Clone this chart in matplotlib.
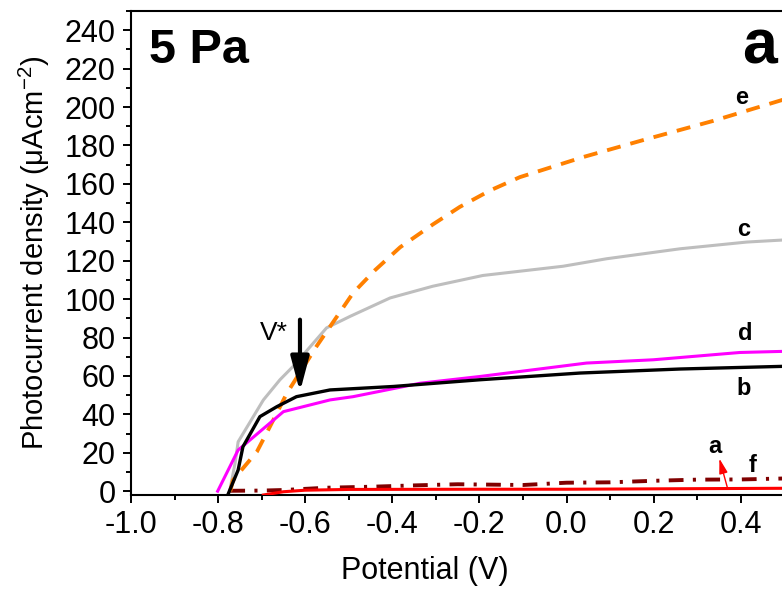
import matplotlib
matplotlib.use("Agg")
import matplotlib.pyplot as plt
from matplotlib.ticker import MultipleLocator, FormatStrFormatter

plt.rcParams['font.family'] = ['Liberation Sans', 'DejaVu Sans']
plt.rcParams['mathtext.default'] = 'regular'
plt.rcParams['axes.unicode_minus'] = False

# ---- data ----
c_v = [-0.773, -0.761, -0.754, -0.696, -0.658, -0.628, -0.551, -0.497, -0.405, -0.307,
       -0.192, -0.008, 0.092, 0.261, 0.414, 0.50]
c_j = [0.5, 14.6, 25.7, 47.5, 58.0, 64.9, 85.0, 91.0, 100.6, 106.7,
       112.3, 117.1, 121.0, 126.2, 129.7, 130.8]

e_v = [-0.772, -0.766, -0.711, -0.681, -0.642, -0.574, -0.490, -0.440, -0.382, -0.306,
       -0.245, -0.176, -0.107, 0.039, 0.184, 0.337, 0.50]
e_j = [0.0, 5.7, 20.5, 33.6, 51.0, 75.4, 103.2, 115.0, 127.0, 139.0,
       148.0, 156.5, 163.5, 174.0, 183.3, 192.8, 204.0]

d_v = [-0.801, -0.754, -0.650, -0.543, -0.490, -0.336, -0.199, -0.045, 0.046, 0.199,
       0.398, 0.50]
d_j = [0.0, 21.4, 41.4, 47.5, 49.2, 56.2, 59.7, 64.1, 66.7, 68.4,
       72.2, 72.8]

b_v = [-0.778, -0.754, -0.743, -0.704, -0.665, -0.620, -0.543, -0.398, -0.199, 0.031,
       0.261, 0.50]
b_j = [-2.1, 11.0, 23.1, 38.8, 44.0, 49.2, 52.7, 54.5, 58.0, 61.5,
       63.6, 65.0]

a_v = [-0.696, -0.65, -0.60, -0.50, -0.20, 0.00, 0.20, 0.40, 0.50]
a_j = [-2.0, -0.3, 0.5, 0.9, 1.0, 1.0, 1.2, 1.4, 1.5]

f_v = [-0.772, -0.70, -0.65, -0.55, -0.45, -0.35, -0.25, -0.10, 0.00, 0.10, 0.20, 0.30, 0.40, 0.50]
f_j = [0.2, 0.3, 0.6, 1.8, 2.3, 3.0, 3.6, 3.2, 4.4, 4.6, 5.4, 6.0, 6.1, 6.6]

curve_labels = ['e', 'c', 'd', 'b', 'a', 'f']
label_pos = {'e': (0.402, 205.0), 'c': (0.406, 136.3), 'd': (0.41, 82.3),
             'b': (0.406, 53.6), 'a': (0.341, 23.1), 'f': (0.4275, 13.6)}

x_ticks = [-1.0, -0.8, -0.6, -0.4, -0.2, 0.0, 0.2, 0.4]
y_ticks = list(range(0, 241, 20))

# ---- figure ----
fig = plt.figure(figsize=(7.82, 5.91), dpi=100)
ax = fig.add_axes([131 / 782, 96 / 591, 696.8 / 782, 484 / 591])

ax.plot(f_v, f_j, color='#800000', lw=2.8, dashes=(3.8, 2.4, 0.8, 2.4), zorder=2)
ax.plot(a_v, a_j, color='#FF0000', lw=2.2, zorder=3)
ax.plot(c_v, c_j, color='#BEBEBE', lw=2.2, zorder=3)
ax.plot(e_v, e_j, color='#FF8000', lw=2.8, dashes=(3.6, 2.6), zorder=3)
ax.plot(d_v, d_j, color='#FF00FF', lw=2.2, zorder=4)
ax.plot(b_v, b_j, color='black', lw=2.4, zorder=5)

for lab in curve_labels:
    x, y = label_pos[lab]
    ax.text(x, y, lab, fontsize=17, fontweight='bold', ha='center', va='center', zorder=6)

# arrow for a
ax.annotate('', xy=(0.351, 17.0), xytext=(0.369, 2.2),
            arrowprops=dict(arrowstyle='-|>,head_length=0.6,head_width=0.17',
                            color='#FF0000', lw=1.0, shrinkA=0, shrinkB=0,
                            mutation_scale=15), zorder=6)

# V* arrow
ax.annotate('', xy=(-0.612, 51.7), xytext=(-0.612, 89.3),
            arrowprops=dict(arrowstyle='-|>,head_length=1.4,head_width=0.37',
                            color='black', lw=3.0, shrinkA=0, shrinkB=0,
                            mutation_scale=15), zorder=7)
ax.text(-0.673, 82.3, 'V*', fontsize=19, ha='center', va='center')

ax.text(0.0258, 0.892, '5 Pa', transform=ax.transAxes, fontsize=35,
        fontweight='bold', ha='left', va='baseline')
ax.text(0.877, 0.892, 'a', transform=ax.transAxes, fontsize=45,
        fontweight='bold', ha='left', va='baseline')

ax.set_xlim(-1.0, 0.6)
ax.set_ylim(-2, 250)
ax.set_xticks(x_ticks)
ax.set_yticks(y_ticks)
ax.xaxis.set_major_formatter(FormatStrFormatter('%.1f'))
ax.xaxis.set_minor_locator(MultipleLocator(0.1))
ax.yaxis.set_minor_locator(MultipleLocator(10))
ax.tick_params(which='major', direction='out', length=6, width=1.4, labelsize=22, pad=4.5)
ax.tick_params(which='minor', direction='out', length=3.5, width=1.4)
ax.tick_params(axis='y', which='major', pad=5)
ax.tick_params(top=False, right=False, which='both')
for s in ['left', 'bottom', 'top']:
    ax.spines[s].set_linewidth(1.5)
ax.spines['right'].set_visible(False)

ax.set_xlabel('Potential (V)', fontsize=22)
ax.set_ylabel('Photocurrent density (μAcm$^{-2}$)', fontsize=21)
ax.xaxis.set_label_coords(0.422, -0.125)
ax.yaxis.set_label_coords(-0.113, 0.5)

fig.savefig('out.png', dpi=100)
